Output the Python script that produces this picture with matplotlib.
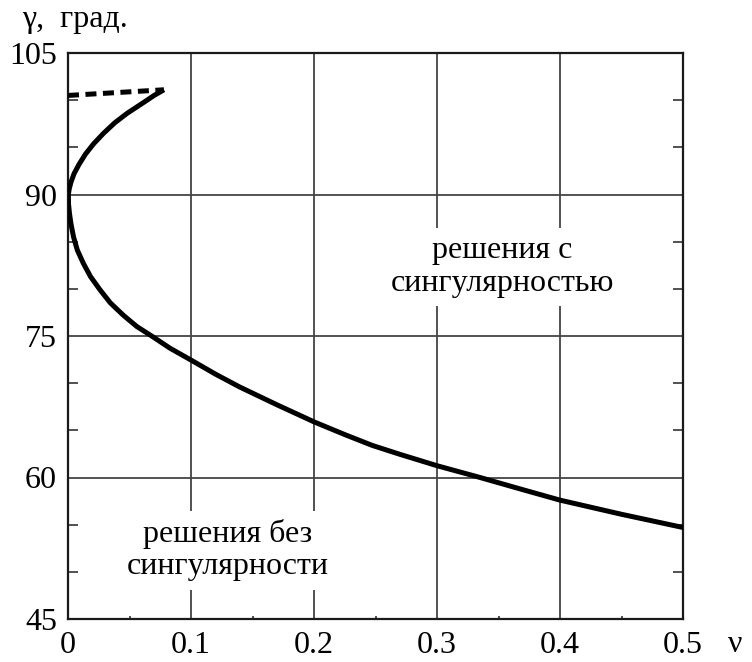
import matplotlib.pyplot as plt

# solid branch, read along the curve from the upper end down to nu=0.5
nu = [0.078, 0.070, 0.062, 0.055, 0.048, 0.038, 0.029, 0.021, 0.0143, 0.009,
      0.0049, 0.0024, 0.0010, 0.0003, 0.0004, 0.0012, 0.0024, 0.0045, 0.0076, 0.0125,
      0.0183, 0.026, 0.0345, 0.045, 0.056, 0.068, 0.083, 0.1, 0.12, 0.1395,
      0.17, 0.2, 0.225, 0.2474, 0.27, 0.285, 0.3, 0.335, 0.37, 0.4,
      0.45, 0.5]
gamma = [101.1, 100.5, 99.8, 99.2, 98.6, 97.6, 96.5, 95.4, 94.3, 93.2,
         92.2, 91.3, 90.6, 90.0, 89.0, 88.0, 86.9, 85.5, 84.1, 82.7,
         81.3, 79.9, 78.5, 77.2, 76.0, 75.0, 73.7, 72.45, 70.95, 69.6,
         67.7, 65.9, 64.55, 63.4, 62.45, 61.85, 61.25, 60.0, 58.7, 57.6,
         56.1, 54.7]

# dashed branch
nu_dash = [0.0, 0.078]
gamma_dash = [100.5, 101.1]

xticks = [0, 0.1, 0.2, 0.3, 0.4, 0.5]
xlabels = ["0", "0.1", "0.2", "0.3", "0.4", "0.5"]
yticks = [45, 60, 75, 90, 105]
xminor = [0.05, 0.15, 0.25, 0.35, 0.45]
yminor = [50, 55, 65, 70, 80, 85, 95, 100]

plt.rcParams['font.family'] = ['Liberation Serif', 'DejaVu Serif']
plt.rcParams['font.size'] = 23

fig = plt.figure(figsize=(7.52, 6.62), dpi=100)
ax = fig.add_axes([68/752, 1-619/662, (683-68)/752, (619-53)/662])

ax.set_xlim(0, 0.5)
ax.set_ylim(45, 105)
ax.set_xticks(xticks)
ax.set_xticklabels(xlabels)
ax.set_yticks(yticks)
ax.set_xticks(xminor, minor=True)
ax.set_yticks(yminor, minor=True)

ax.grid(which='major', color='#444444', lw=1.3)
ax.set_axisbelow(True)
ax.tick_params(axis='x', which='major', length=0, pad=8.5)
ax.tick_params(axis='y', which='major', length=0, pad=8)
ax.tick_params(axis='y', which='minor', direction='in', length=7.5, width=1.2,
               left=True, right=True, color='#333333')
ax.tick_params(axis='x', which='minor', direction='in', length=2, width=1.2,
               bottom=True, top=False, color='#333333')
for s in ax.spines.values():
    s.set_linewidth(1.6)
    s.set_color('#1a1a1a')

ax.plot(nu, gamma, color='black', lw=3.6, solid_joinstyle='round',
        solid_capstyle='butt', zorder=5)
ax.plot(nu_dash, gamma_dash, color='black', lw=3.6, linestyle=(0, (2.2, 1.3)),
        zorder=5)

box = dict(facecolor='white', edgecolor='none', pad=6)
ax.text(0.130, 52.3, "решения без\nсингулярности", ha='center', va='center',
        linespacing=1.15, bbox=box, zorder=4)
ax.text(0.353, 82.3, "решения с\nсингулярностью", ha='center', va='center',
        linespacing=1.15, bbox=box, zorder=4)

fig.text(22/752, 1-27/662, "γ,  град.", ha='left', va='baseline')
fig.text(735/752, 1-652/662, "ν", ha='center', va='baseline')

fig.savefig("out.png", dpi=100)
